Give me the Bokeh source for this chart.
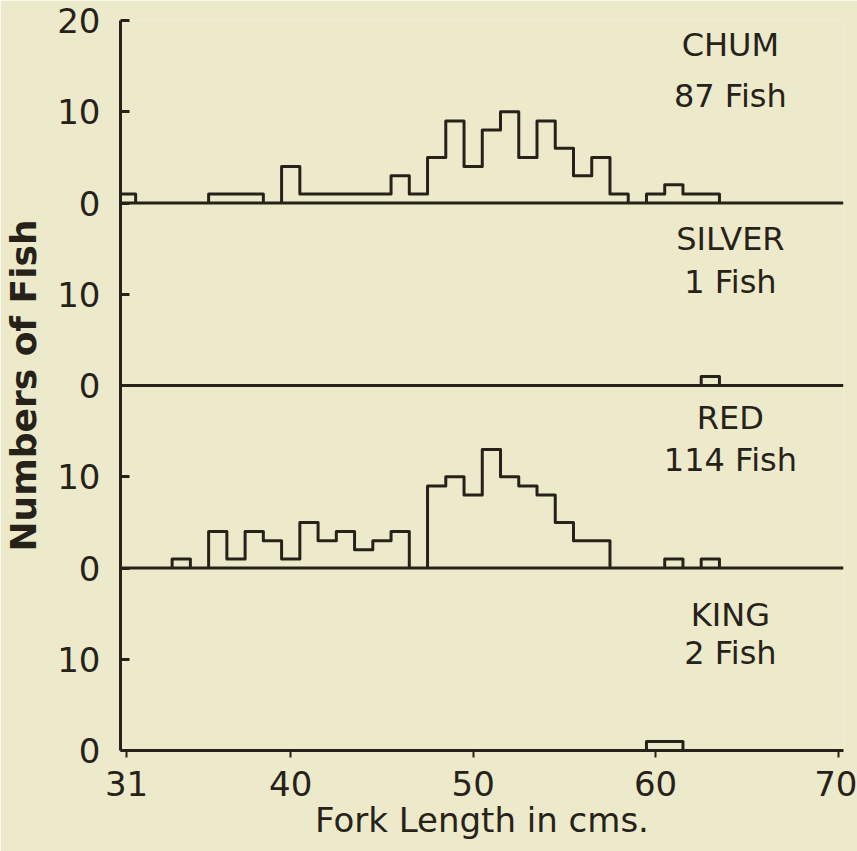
import math
from bokeh.plotting import figure
from bokeh.models import Range1d, FixedTicker, Span, Label
from bokeh.embed import file_html
from bokeh.resources import INLINE

# ---------------- data ----------------
species = ["CHUM", "SILVER", "RED", "KING"]
fish_totals = ["87 Fish", "1 Fish", "114 Fish", "2 Fish"]

chum_cm = [31, 36, 37, 38, 40, 41, 42, 43, 44, 45, 46, 47, 48, 49, 50, 51, 52, 53, 54, 55, 56, 57, 58, 60, 61, 62, 63]
chum_n = [1, 1, 1, 1, 4, 1, 1, 1, 1, 1, 3, 1, 5, 9, 4, 8, 10, 5, 9, 6, 3, 5, 1, 1, 2, 1, 1]

silver_cm = [63]
silver_n = [1]

red_cm = [34, 36, 37, 38, 39, 40, 41, 42, 43, 44, 45, 46, 48, 49, 50, 51, 52, 53, 54, 55, 56, 57, 61, 63]
red_n = [1, 4, 1, 4, 3, 1, 5, 3, 4, 2, 3, 4, 9, 10, 8, 13, 10, 9, 8, 5, 3, 3, 1, 1]

king_cm = [60, 61]
king_n = [1, 1]

x_ticks = [31, 40, 50, 60, 70]
panel_count_ticks = [0, 10]
top_tick = 20

x_title = "Fork Length in cms."
y_title = "Numbers of Fish"

# ---------------- layout / style ----------------
PANEL = 20          # count units per panel
BIN = 1.0           # bin width, cm
INK = "#272219"
BG = "#ECEACB"
FONT = "DejaVu Sans"

series = [(chum_cm, chum_n), (silver_cm, silver_n), (red_cm, red_n), (king_cm, king_n)]
bases = [3 * PANEL, 2 * PANEL, 1 * PANEL, 0]
label_y = [(17.3, 11.7), (16.1, 11.3), (16.4, 11.8), (14.8, 10.7)]
label_x = 64.1

p = figure(width=857, height=851, output_backend="svg", toolbar_location=None,
           x_range=Range1d(30.67, 70.3), y_range=Range1d(0, 4 * PANEL),
           min_border_left=120, min_border_right=14, min_border_top=20,
           min_border_bottom=101)
p.background_fill_color = BG
p.border_fill_color = BG
p.outline_line_color = None
p.grid.visible = False


def outline(cms, ns, base):
    pairs = sorted(zip(cms, ns))
    runs = []
    for c, n in pairs:
        if runs and runs[-1][-1][0] == c - 1:
            runs[-1].append((c, n))
        else:
            runs.append([(c, n)])
    xs, ys = [], []
    for run in runs:
        px = [run[0][0] - BIN / 2]
        py = [base]
        for c, n in run:
            px += [c - BIN / 2, c + BIN / 2]
            py += [base + n, base + n]
        px.append(run[-1][0] + BIN / 2)
        py.append(base)
        xs.append(px)
        ys.append(py)
    return xs, ys


for (cms, ns), base in zip(series, bases):
    xs, ys = outline(cms, ns, base)
    p.multi_line(xs, ys, line_color=INK, line_width=3, line_join="round")

for base in bases[:-1]:
    p.add_layout(Span(location=base, dimension="width", line_color=INK, line_width=3))

# y axis: per-panel tick labels
yt = []
overrides = {}
for base in bases:
    for t in panel_count_ticks:
        yt.append(base + t)
        overrides[base + t] = str(t)
yt.append(bases[0] + top_tick)
overrides[bases[0] + top_tick] = str(top_tick)
p.yaxis.ticker = FixedTicker(ticks=sorted(yt))
p.yaxis.major_label_overrides = overrides
p.yaxis.major_tick_in = 9
p.yaxis.major_tick_out = 0
p.yaxis.minor_tick_line_color = None
p.yaxis.major_label_standoff = 20
p.yaxis.axis_line_width = 3
p.yaxis.major_tick_line_width = 3
p.yaxis.axis_label = y_title
p.yaxis.axis_label_standoff = 10
p.yaxis.axis_label_text_font_size = "36px"
p.yaxis.axis_label_text_font_style = "bold"

p.xaxis.ticker = FixedTicker(ticks=x_ticks)
p.xaxis.major_tick_in = 0
p.xaxis.major_tick_out = 7
p.xaxis.minor_tick_line_color = None
p.xaxis.major_label_standoff = 13
p.xaxis.axis_line_width = 3
p.xaxis.major_tick_line_width = 2
p.xaxis.axis_label = x_title
p.xaxis.axis_label_standoff = 1
p.xaxis.axis_label_text_font_size = "34px"
p.xaxis.axis_label_text_font_style = "normal"

for ax in (p.xaxis, p.yaxis):
    ax.axis_line_color = INK
    ax.major_tick_line_color = INK
    ax.major_label_text_color = INK
    ax.major_label_text_font = FONT
    ax.major_label_text_font_size = "34px"
    ax.axis_label_text_color = INK
    ax.axis_label_text_font = FONT

# panel labels
for name, tot, base, (ly1, ly2) in zip(species, fish_totals, bases, label_y):
    p.add_layout(Label(x=label_x, y=base + ly1, text=name, text_align="center",
                       text_baseline="alphabetic", text_font=FONT,
                       text_font_size="32px", text_color=INK))
    p.add_layout(Label(x=label_x, y=base + ly2, text=tot, text_align="center",
                       text_baseline="alphabetic", text_font=FONT,
                       text_font_size="32px", text_color=INK))

open("out.html", "w").write(file_html(p, INLINE))
